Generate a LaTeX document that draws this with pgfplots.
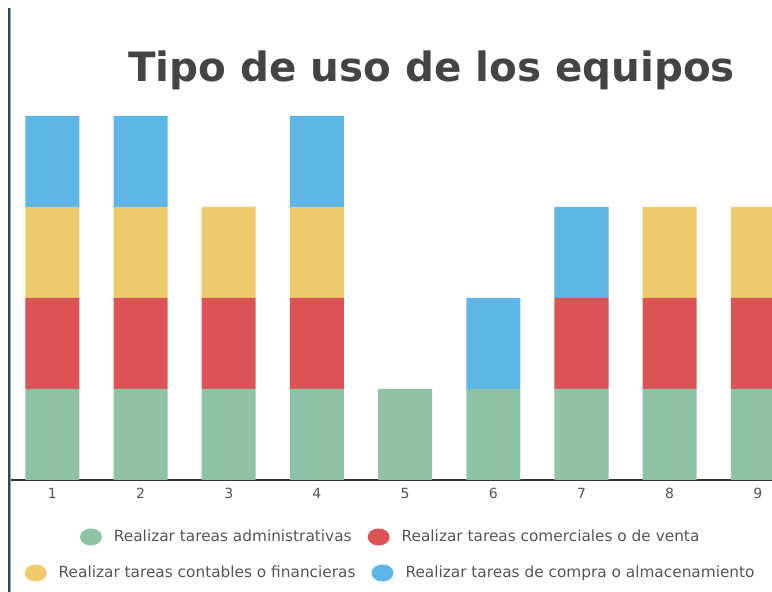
\documentclass[border=0pt]{standalone}
\usepackage{pgfplots}
\pgfplotsset{compat=1.18}
\usepackage{fontspec}
\setmainfont{DejaVu Sans}
\definecolor{cgreen}{RGB}{142,195,166}
\definecolor{cred}{RGB}{220,83,86}
\definecolor{cyellow}{RGB}{239,202,107}
\definecolor{cblue}{RGB}{93,182,229}
\definecolor{ctext}{RGB}{85,85,85}
\definecolor{ctitle}{RGB}{68,68,68}
\definecolor{cgrid}{RGB}{224,224,224}
\pgfplotsset{
  circlegend/.style={legend image code/.code={\fill (0pt,0pt) ellipse (8.25pt and 6.4pt);}},
  mylegend/.style={draw=none, fill=none, font=\fontsize{11.5}{13}\selectfont, text=ctext,
    legend columns=2, /tikz/every even column/.append style={column sep=10pt},
    /tikz/every odd column/.append style={column sep=7pt}},
}
\begin{document}
\begin{tikzpicture}
\useasboundingbox (0pt,0pt) rectangle (579pt,444pt);
\begin{axis}[
  at={(7.5pt,84pt)}, anchor=south west,
  scale only axis, width=571.5pt, height=273pt,
  ybar stacked, bar width=40.5pt,
  xmin=0.52, xmax=9.16, ymin=0, ymax=4,
  xtick={1,2,3,4,5,6,7,8,9},
  ytick={0,0.5,...,4}, yticklabels={},
  major tick length=0pt,
  axis x line*=bottom, axis y line=none,
  x axis line style={draw=black!80, line width=1.5pt},
  ymajorgrids, grid style={cgrid, line width=0.8pt},
  /pgf/number format/assume math mode=true,
  ticklabel style={font=\fontsize{10.5}{12}\selectfont, text=ctext},
  xticklabel style={yshift=-2.5pt},
  every axis plot post/.append style={circlegend},
  legend style={mylegend, at={(0.5,-0.1566)}, anchor=center},
]
\addplot[fill=cgreen, draw=none] coordinates {(1,1) (2,1) (3,1) (4,1) (5,1) (6,1) (7,1) (8,1) (9,1)};
\addlegendentry{Realizar tareas administrativas}
\addplot[fill=cred, draw=none] coordinates {(1,1) (2,1) (3,1) (4,1) (5,0) (6,0) (7,1) (8,1) (9,1)};
\addlegendentry{Realizar tareas comerciales o de venta}
\addplot[fill=cyellow, draw=none, forget plot] coordinates {(1,1) (2,1) (3,1) (4,1) (5,0) (6,0) (7,0) (8,1) (9,1)};
\addplot[fill=cblue, draw=none, forget plot] coordinates {(1,1) (2,1) (3,0) (4,1) (5,0) (6,1) (7,1) (8,0) (9,0)};
\end{axis}
\begin{axis}[
  at={(7.5pt,84pt)}, anchor=south west,
  scale only axis, width=571.5pt, height=273pt,
  xmin=0.52, xmax=9.16, ymin=0, ymax=4,
  hide axis,
  legend style={mylegend, at={(0.5,-0.2555)}, anchor=center},
]
\addlegendimage{fill=cyellow, draw=none, circlegend}
\addlegendentry{Realizar tareas contables o financieras}
\addlegendimage{fill=cblue, draw=none, circlegend}
\addlegendentry{Realizar tareas de compra o almacenamiento}
\end{axis}
\draw[black!75, line width=1.5pt] (6.75pt,438pt) -- (6.75pt,0pt);
\draw[cblue, line width=0.75pt] (7.9pt,438pt) -- (7.9pt,0pt);
\node[anchor=base, text=ctitle, font=\fontsize{30.3}{36}\selectfont\bfseries] at (323.6pt,382.5pt) {Tipo de uso de los equipos};
\end{tikzpicture}
\end{document}
